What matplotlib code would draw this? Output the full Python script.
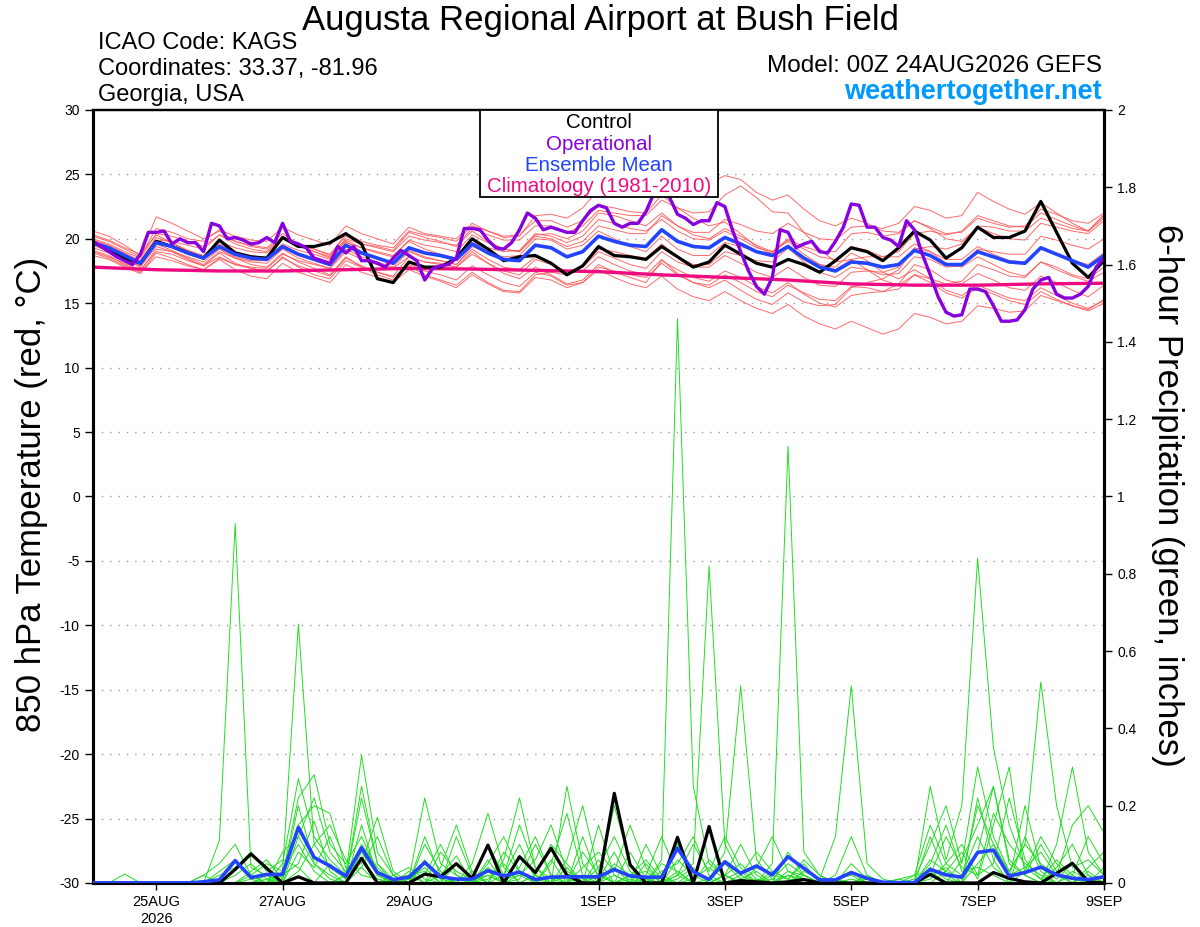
"""GEFS ensemble meteogram: 850 hPa temperature and 6-hour precipitation."""

import matplotlib

matplotlib.use("Agg")
from matplotlib import pyplot as plt  # noqa: E402
from matplotlib.patches import Rectangle  # noqa: E402
from matplotlib.ticker import FuncFormatter, MultipleLocator  # noqa: E402

plt.rcParams["font.family"] = ["Liberation Sans", "DejaVu Sans"]
plt.rcParams["axes.unicode_minus"] = False

STEP_DAYS = 0.25       # ensemble output every 6 h
OPER_STEP_DAYS = 0.125  # operational run every 3 h

tick_days = [1, 3, 5, 8, 10, 12, 14, 16]
tick_labels = ["25AUG\n2026", "27AUG", "29AUG", "1SEP", "3SEP", "5SEP", "7SEP", "9SEP"]

# ---- 850 hPa temperature (deg C) ----
control_temp = [
    19.7, 19.2, 18.5, 18.1, 19.8, 19.4, 18.9, 18.5, 19.9, 18.9, 18.6, 18.5, 20.1, 19.4, 19.4, 19.7,
    20.4, 19.6, 16.9, 16.6, 18.2, 17.8, 17.8, 18.5, 20.0, 19.2, 18.3, 18.6, 18.7, 18.1, 17.2, 17.9,
    19.4, 18.7, 18.6, 18.4, 19.4, 18.6, 17.8, 18.2, 19.5, 18.8, 18.1, 17.8, 18.4, 18.0, 17.4, 18.3,
    19.3, 19.0, 18.3, 19.3, 20.6, 19.9, 18.5, 19.3, 20.9, 20.1, 20.1, 20.6, 22.9, 20.5, 18.1, 17.0,
    18.3,
]
mean_temp = [
    19.7, 19.3, 18.7, 18.1, 19.7, 19.4, 18.9, 18.5, 19.4, 18.8, 18.5, 18.4, 19.4, 18.8, 18.4, 18.0,
    19.5, 18.9, 18.5, 18.1, 19.3, 18.9, 18.7, 18.4, 19.6, 18.9, 18.4, 18.3, 19.5, 19.3, 18.6, 19.0,
    20.2, 19.8, 19.5, 19.4, 20.7, 19.8, 19.4, 19.3, 20.1, 19.6, 19.0, 18.7, 19.4, 18.5, 17.8, 17.5,
    18.2, 18.1, 17.8, 18.0, 19.1, 18.7, 18.0, 18.0, 19.0, 18.6, 18.2, 18.1, 19.3, 18.8, 18.3, 17.8,
    18.7,
]
oper_temp = [
    19.8, 19.4, 19.0, 18.6, 18.3, 18.0, 18.8, 20.5, 20.5, 20.6, 19.6, 20.0, 19.7, 19.7, 19.0, 21.2,
    21.0, 20.0, 20.1, 19.9, 19.6, 19.7, 20.1, 19.7, 21.2, 19.8, 19.6, 19.3, 18.5, 18.3, 18.1, 19.4,
    18.9, 19.4, 18.3, 18.3, 18.1, 17.8, 18.5, 19.1, 18.7, 18.3, 16.8, 17.7, 17.9, 18.0, 18.5, 20.8,
    20.8, 20.7, 19.9, 19.3, 19.2, 19.7, 20.7, 22.0, 21.6, 20.7, 20.9, 20.7, 20.5, 20.5, 21.4, 22.2,
    22.6, 22.4, 21.2, 20.9, 21.2, 21.2, 22.1, 23.5, 23.7, 23.2, 21.9, 21.6, 21.1, 21.4, 21.4, 22.8,
    22.5, 20.6, 19.0, 17.5, 16.3, 15.7, 17.0, 20.7, 20.5, 19.3, 19.6, 19.8, 19.0, 18.9, 19.8, 20.9,
    22.7, 22.6, 20.9, 20.9, 20.1, 19.9, 19.4, 21.4, 20.7, 18.8, 17.2, 15.5, 14.3, 14.0, 14.1, 16.1,
    16.1, 15.9, 14.8, 13.6, 13.6, 13.7, 14.5, 16.1, 16.8, 17.0, 15.7, 15.4, 15.4, 15.7, 16.3, 17.8,
    18.5,
]
# 1981-2010 climatology, one value per day
clim_temp = [17.8, 17.6, 17.5, 17.5, 17.6, 17.7, 17.65, 17.55, 17.45,
             17.2, 17.0, 16.8, 16.5, 16.4, 16.4, 16.5, 16.55]

member_temp_01 = [
    20.2, 19.8, 19.2, 18.6, 20.8, 20.5, 20.0, 19.8, 20.7, 20.2, 19.9, 19.8, 20.9, 20.3, 19.9, 19.5,
    21.0, 20.4, 20.0, 19.6, 20.9, 20.4, 20.2, 20.0, 21.2, 20.6, 20.1, 20.2, 21.8, 21.9, 21.6, 22.4,
    23.8, 24.5, 24.8, 24.6, 24.9, 24.5, 24.2, 24.3, 24.9, 24.6, 23.6, 23.0, 23.4, 22.3, 21.4, 21.0,
    21.6, 21.2, 20.6, 20.5, 21.4, 20.8, 20.0, 19.8, 20.9, 20.4, 20.0, 19.9, 21.2, 20.9, 20.6, 20.4,
    21.4,
]
member_temp_02 = [
    19.0, 18.6, 18.1, 17.6, 19.0, 18.8, 18.3, 17.9, 18.6, 18.0, 17.7, 17.5, 18.5, 17.9, 17.5, 17.1,
    18.5, 17.9, 17.4, 17.0, 18.0, 17.5, 17.2, 16.8, 17.9, 17.2, 16.6, 16.3, 17.4, 17.1, 16.4, 16.6,
    17.6, 17.0, 16.5, 16.2, 17.1, 16.1, 15.5, 15.2, 15.9, 15.2, 14.6, 14.2, 14.9, 14.0, 13.4, 13.0,
    13.6, 13.1, 12.6, 13.0, 14.2, 13.9, 13.4, 13.6, 14.8, 14.6, 14.3, 14.4, 15.6, 15.2, 14.8, 14.5,
    15.3,
]
member_temp_03 = [
    19.9, 19.5, 18.9, 18.3, 20.1, 19.7, 19.1, 18.6, 19.6, 19.0, 18.7, 18.5, 19.6, 19.1, 18.8, 18.4,
    19.9, 19.3, 18.9, 18.6, 19.9, 19.5, 19.3, 19.0, 20.3, 19.7, 19.2, 19.0, 20.2, 20.0, 19.4, 19.8,
    21.0, 20.7, 20.4, 20.4, 21.8, 21.0, 20.5, 20.5, 21.5, 21.1, 20.6, 20.4, 21.2, 20.5, 20.0, 19.9,
    20.9, 21.0, 20.8, 21.2, 22.5, 22.2, 21.6, 21.8, 23.6, 22.9, 22.3, 21.9, 22.8, 22.0, 21.2, 20.6,
    21.8,
]
member_temp_04 = [
    19.3, 18.9, 18.4, 17.8, 19.4, 19.0, 18.4, 17.9, 18.9, 18.1, 17.7, 17.4, 18.6, 17.8, 17.2, 16.9,
    18.3, 17.8, 17.4, 17.1, 18.6, 18.2, 18.1, 17.8, 19.0, 18.1, 17.3, 16.9, 17.8, 17.2, 16.5, 16.8,
    18.0, 17.4, 17.0, 16.6, 18.3, 17.6, 17.0, 16.7, 17.5, 17.0, 16.3, 15.8, 16.6, 15.7, 15.0, 14.7,
    15.6, 15.8, 15.9, 16.5, 18.0, 17.6, 16.8, 16.5, 17.3, 16.8, 16.2, 16.0, 17.1, 16.6, 16.0, 15.5,
    16.4,
]
member_temp_05 = [
    20.6, 20.2, 19.5, 18.7, 21.7, 21.2, 20.6, 20.0, 20.6, 19.8, 19.4, 19.2, 20.1, 19.5, 19.2, 18.8,
    20.2, 19.6, 19.4, 19.1, 20.5, 20.1, 19.8, 19.4, 20.6, 19.8, 19.2, 19.0, 20.3, 20.4, 20.0, 20.6,
    22.0, 21.8, 21.4, 21.0, 22.0, 21.0, 20.3, 20.0, 20.8, 20.2, 19.5, 19.0, 19.8, 18.8, 18.0, 17.6,
    18.4, 18.6, 18.6, 19.0, 20.4, 20.6, 20.3, 20.6, 21.8, 21.4, 21.0, 20.9, 22.0, 21.5, 21.0, 20.6,
    21.6,
]
member_temp_06 = [
    19.1, 18.7, 18.0, 17.5, 19.2, 19.0, 18.6, 18.2, 19.2, 18.5, 18.0, 17.8, 18.9, 18.2, 17.7, 17.2,
    18.6, 17.8, 17.2, 16.8, 17.9, 17.2, 16.8, 16.4, 17.4, 16.6, 16.0, 15.9, 17.2, 17.4, 17.2, 17.9,
    19.2, 19.0, 18.7, 18.5, 19.6, 18.6, 18.0, 18.0, 19.0, 18.7, 18.3, 18.2, 19.3, 18.6, 18.0, 17.8,
    18.9, 18.3, 17.4, 16.9, 17.6, 16.9, 16.0, 15.6, 16.4, 15.9, 15.4, 15.2, 16.2, 15.6, 15.0, 14.6,
    15.2,
]
member_temp_07 = [
    20.0, 19.6, 19.0, 18.5, 20.4, 20.2, 19.8, 19.4, 20.3, 19.6, 19.2, 19.0, 20.2, 19.6, 19.2, 18.7,
    20.4, 19.8, 19.5, 19.3, 20.6, 20.3, 20.1, 19.8, 21.0, 20.6, 20.2, 20.3, 21.4, 21.4, 20.9, 21.4,
    22.6, 22.4, 22.1, 22.0, 23.4, 22.4, 21.6, 21.0, 21.3, 20.4, 19.4, 18.8, 19.3, 18.2, 17.4, 17.0,
    17.8, 17.6, 17.2, 17.3, 18.6, 18.4, 17.8, 17.9, 19.2, 19.0, 18.8, 18.8, 20.2, 19.9, 19.5, 19.2,
    20.0,
]
member_temp_08 = [
    19.5, 19.0, 18.3, 17.9, 19.6, 19.1, 18.5, 18.0, 19.0, 18.5, 18.2, 18.1, 19.2, 18.5, 18.1, 17.7,
    19.2, 18.6, 18.2, 17.8, 19.0, 18.5, 18.3, 18.0, 19.2, 18.4, 17.8, 17.6, 18.6, 18.1, 17.3, 17.5,
    18.6, 18.0, 17.5, 17.2, 18.4, 17.3, 16.6, 16.2, 16.8, 16.0, 15.3, 14.9, 15.8, 15.1, 14.8, 14.9,
    16.2, 16.6, 16.9, 17.6, 19.2, 19.4, 19.2, 19.6, 21.0, 20.9, 20.6, 20.6, 21.6, 21.2, 20.8, 20.6,
    21.9,
]
member_temp_09 = [
    19.8, 19.4, 18.8, 18.2, 19.9, 19.8, 19.5, 19.2, 20.3, 19.8, 19.5, 19.3, 20.4, 19.6, 19.0, 18.5,
    19.8, 19.0, 18.5, 18.0, 19.1, 18.6, 18.3, 18.0, 19.4, 18.9, 18.6, 18.7, 20.0, 19.9, 19.2, 19.5,
    20.6, 20.0, 19.4, 19.0, 20.2, 19.2, 18.7, 18.7, 19.7, 19.4, 19.0, 18.9, 19.9, 19.2, 18.6, 18.4,
    19.4, 19.1, 18.6, 18.6, 19.6, 19.0, 18.1, 17.8, 18.6, 18.0, 17.4, 17.1, 18.2, 17.6, 17.1, 16.7,
    17.4,
]
member_temp_10 = [
    19.6, 19.2, 18.6, 18.0, 19.8, 19.5, 19.1, 18.7, 19.8, 19.3, 19.0, 18.9, 20.0, 19.4, 19.0, 18.6,
    20.0, 19.6, 19.3, 19.0, 20.2, 19.9, 19.7, 19.5, 20.8, 20.3, 19.9, 19.9, 21.0, 21.0, 20.5, 21.0,
    22.2, 22.0, 21.8, 21.8, 23.0, 22.4, 22.0, 22.1, 23.4, 24.1, 23.2, 22.1, 22.0, 20.5, 19.2, 18.2,
    18.4, 17.6, 16.8, 16.4, 17.2, 16.6, 15.8, 15.4, 16.2, 15.7, 15.2, 14.9, 15.9, 15.3, 14.8, 14.4,
    15.0,
]
member_temp_11 = [
    18.9, 18.5, 17.9, 17.4, 18.6, 18.3, 17.9, 17.6, 18.5, 18.0, 17.8, 17.7, 18.8, 18.3, 18.0, 17.7,
    19.0, 18.4, 18.0, 17.7, 18.6, 18.2, 18.0, 17.8, 18.8, 18.1, 17.5, 17.2, 18.4, 18.0, 17.5, 17.8,
    19.0, 18.5, 18.0, 17.7, 19.0, 18.2, 17.8, 17.8, 18.7, 18.1, 17.4, 17.0, 17.8, 17.0, 16.4, 16.3,
    17.4, 17.5, 17.4, 17.8, 19.3, 19.0, 18.4, 18.4, 19.4, 18.8, 18.3, 18.2, 19.3, 18.8, 18.3, 18.0,
    18.9,
]
member_temp_12 = [
    20.3, 19.9, 19.3, 18.8, 20.3, 19.7, 19.0, 18.5, 19.3, 18.6, 18.3, 18.3, 19.3, 18.7, 18.4, 18.2,
    19.7, 19.3, 19.0, 18.7, 19.8, 19.2, 18.8, 18.5, 19.7, 19.3, 19.0, 19.1, 20.4, 20.2, 19.7, 20.2,
    21.5, 21.2, 20.8, 20.6, 21.5, 20.6, 20.0, 19.9, 20.6, 20.0, 19.3, 19.0, 20.0, 19.4, 19.0, 19.0,
    20.4, 20.5, 20.2, 20.4, 21.4, 20.9, 20.4, 20.5, 21.6, 21.2, 20.9, 21.0, 22.3, 21.9, 21.4, 21.2,
    22.0,
]
member_temp_13 = [
    18.7, 18.4, 17.8, 17.3, 18.9, 18.5, 18.0, 17.6, 18.4, 17.6, 17.1, 16.9, 18.1, 17.4, 17.0, 16.6,
    18.0, 17.4, 17.0, 16.6, 17.6, 17.1, 16.7, 16.2, 17.2, 16.5, 15.9, 15.8, 17.0, 16.8, 16.2, 16.6,
    17.8, 17.5, 17.2, 17.0, 18.1, 17.2, 16.6, 16.4, 17.2, 16.6, 15.9, 15.5, 16.4, 15.8, 15.3, 15.2,
    16.3, 16.2, 15.9, 16.1, 17.2, 16.9, 16.5, 16.7, 18.0, 17.6, 17.1, 17.0, 18.2, 17.8, 17.2, 16.9,
    17.8,
]

# ---- 6-hour precipitation (inches) ----
control_precip = [
    0, 0, 0, 0, 0, 0, 0, 0, 0, 0.035, 0.075, 0.038, 0, 0.016, 0, 0,
    0, 0.064, 0, 0, 0, 0.023, 0.016, 0.05, 0.012, 0.098, 0, 0.068, 0.027, 0.09, 0.02, 0,
    0, 0.232, 0.047, 0, 0, 0.118, 0, 0.146, 0, 0.006, 0.003, 0, 0.003, 0.009, 0, 0,
    0, 0, 0, 0, 0, 0.022, 0, 0, 0, 0.027, 0.012, 0.003, 0, 0.025, 0.051, 0.003,
    0,
]
mean_precip = [
    0, 0, 0, 0, 0, 0, 0, 0.003, 0.008, 0.058, 0.014, 0.022, 0.022, 0.144, 0.066, 0.044,
    0.018, 0.091, 0.027, 0.009, 0.015, 0.053, 0.016, 0.010, 0.010, 0.032, 0.018, 0.028, 0.009, 0.015, 0.016, 0.016,
    0.016, 0.035, 0.018, 0.015, 0.015, 0.09, 0.029, 0.009, 0.055, 0.025, 0.044, 0.021, 0.068, 0.038, 0.008, 0.008,
    0.027, 0.012, 0.002, 0.001, 0.001, 0.035, 0.021, 0.015, 0.079, 0.085, 0.018, 0.027, 0.041, 0.021, 0.012, 0.009,
    0.016,
]
member_precip_01 = [
    0, 0, 0, 0, 0, 0, 0, 0, 0.11, 0.93, 0.04, 0.02, 0, 0.12, 0.05, 0.02,
    0, 0.08, 0.02, 0, 0, 0.05, 0.02, 0, 0, 0.03, 0, 0.07, 0.02, 0, 0.25, 0.05,
    0, 0.02, 0, 0.01, 0, 0.03, 0, 0, 0.02, 0.05, 0.01, 0, 0.03, 0.02, 0, 0,
    0, 0.01, 0, 0, 0, 0.06, 0.03, 0.01, 0.2, 0.1, 0.02, 0.04, 0.01, 0, 0, 0.03,
    0,
]
member_precip_02 = [
    0, 0, 0, 0, 0, 0, 0, 0, 0, 0, 0.02, 0.05, 0.03, 0.67, 0.1, 0.04,
    0.01, 0.22, 0.05, 0.01, 0.02, 0, 0.08, 0.03, 0.01, 0.1, 0.02, 0.15, 0.04, 0.01, 0, 0.12,
    0.01, 0.2, 0.05, 0, 0.02, 0.1, 0.03, 0.01, 0, 0.02, 0.08, 0.03, 0.01, 0.05, 0, 0.01,
    0.02, 0, 0, 0, 0.01, 0.1, 0.2, 0.05, 0.3, 0.12, 0.03, 0.1, 0.05, 0.02, 0.15, 0.2,
    0.13,
]
member_precip_03 = [
    0, 0, 0, 0, 0, 0, 0, 0, 0, 0, 0, 0.01, 0.02, 0.22, 0.28, 0.1,
    0.05, 0.12, 0.03, 0, 0.01, 0.22, 0.05, 0.02, 0, 0.04, 0.01, 0.02, 0.06, 0.15, 0.03, 0.01,
    0, 0.05, 0.02, 0, 0.06, 1.46, 0.25, 0.05, 0.02, 0, 0.04, 0.12, 0.03, 0.01, 0, 0,
    0.03, 0.01, 0, 0, 0, 0.04, 0.01, 0, 0.08, 0.25, 0.06, 0.02, 0.1, 0.03, 0, 0.02,
    0,
]
member_precip_04 = [
    0, 0, 0, 0, 0, 0, 0, 0, 0.03, 0.06, 0.02, 0, 0.05, 0.27, 0.12, 0.06,
    0.02, 0.33, 0.08, 0.02, 0.04, 0.01, 0, 0.12, 0.02, 0, 0.08, 0.03, 0, 0.05, 0.18, 0.02,
    0.01, 0.08, 0, 0.02, 0.12, 0.02, 0.05, 0.82, 0.1, 0.02, 0, 0.01, 0.05, 0.02, 0, 0.01,
    0, 0, 0, 0, 0.02, 0.15, 0.05, 0.02, 0.12, 0.04, 0.01, 0.2, 0.04, 0.01, 0.05, 0,
    0.04,
]
member_precip_05 = [
    0, 0, 0, 0, 0, 0, 0, 0, 0, 0, 0, 0, 0.01, 0.15, 0.2, 0.18,
    0.04, 0.05, 0.17, 0.03, 0, 0.02, 0.1, 0.02, 0, 0.02, 0, 0.01, 0.1, 0.02, 0, 0.04,
    0.08, 0.03, 0.15, 0.04, 0, 0.02, 0.1, 0.03, 0.12, 0.04, 0, 0.05, 1.13, 0.08, 0.02, 0,
    0.01, 0, 0, 0, 0, 0.02, 0.12, 0.04, 0.02, 0.18, 0.1, 0.05, 0.02, 0, 0.03, 0.01,
    0,
]
member_precip_06 = [
    0, 0, 0, 0, 0, 0, 0, 0, 0, 0.02, 0.05, 0.01, 0, 0.08, 0.04, 0.12,
    0.02, 0.1, 0.04, 0, 0, 0.06, 0.01, 0, 0.05, 0.18, 0.04, 0, 0.02, 0, 0.06, 0.2,
    0.03, 0, 0.02, 0.06, 0.01, 0, 0.03, 0.01, 0.08, 0.51, 0.06, 0.01, 0, 0.03, 0.01, 0.12,
    0.51, 0.05, 0.01, 0, 0, 0.01, 0.05, 0.1, 0.02, 0.05, 0.22, 0.06, 0.01, 0.06, 0.02, 0,
    0.02,
]
member_precip_07 = [
    0, 0, 0, 0, 0, 0, 0, 0, 0, 0, 0.03, 0.06, 0.01, 0.2, 0.05, 0.01,
    0, 0.15, 0.02, 0, 0, 0, 0.04, 0.15, 0.03, 0, 0.06, 0.22, 0.04, 0, 0.02, 0,
    0.04, 0.12, 0.03, 0, 0.05, 0.03, 0, 0.06, 0.02, 0, 0.01, 0, 0.08, 0.02, 0, 0,
    0.05, 0.01, 0, 0, 0, 0.25, 0.06, 0.2, 0.84, 0.35, 0.15, 0.04, 0.08, 0.02, 0, 0.04,
    0.08,
]
member_precip_08 = [
    0, 0, 0, 0, 0, 0, 0, 0.02, 0.05, 0.1, 0.02, 0, 0.03, 0.1, 0.03, 0,
    0.02, 0.06, 0.01, 0, 0.02, 0.03, 0, 0.01, 0, 0.05, 0.12, 0.03, 0, 0.02, 0.01, 0,
    0.15, 0.02, 0, 0.1, 0.02, 0, 0.01, 0.04, 0.01, 0.03, 0, 0.02, 0.01, 0.06, 0.02, 0,
    0, 0.02, 0, 0, 0, 0.02, 0.04, 0, 0.05, 0.1, 0.03, 0.1, 0.52, 0.2, 0.04, 0.06,
    0.02,
]
member_precip_09 = [
    0, 0, 0.023, 0, 0, 0, 0, 0.02, 0, 0, 0, 0, 0.02, 0.05, 0.16, 0.03,
    0, 0.04, 0.12, 0.02, 0, 0.12, 0.02, 0, 0.03, 0, 0.02, 0.1, 0.01, 0, 0.04, 0,
    0.02, 0, 0.08, 0.01, 0, 0.06, 0.02, 0, 0.02, 0, 0, 0.03, 0.01, 0, 0, 0,
    0, 0, 0, 0.01, 0, 0.05, 0.15, 0.03, 0.04, 0.02, 0, 0.03, 0.12, 0.05, 0.01, 0,
    0,
]
member_precip_10 = [
    0, 0, 0, 0, 0, 0, 0, 0, 0.02, 0.04, 0.08, 0.03, 0.06, 0.04, 0, 0.05,
    0.01, 0.25, 0.05, 0, 0.01, 0.04, 0, 0.05, 0.01, 0.02, 0, 0.04, 0.12, 0.02, 0, 0.08,
    0.02, 0, 0.01, 0, 0.03, 0.05, 0.12, 0.02, 0, 0.01, 0.03, 0, 0.02, 0.01, 0, 0.02,
    0.12, 0.02, 0, 0.01, 0.02, 0.03, 0, 0.06, 0.15, 0.25, 0.05, 0.02, 0, 0.1, 0.3, 0.08,
    0.02,
]
member_precip_11 = [
    0, 0, 0, 0, 0, 0, 0, 0, 0, 0, 0.01, 0, 0.08, 0.12, 0.22, 0.08,
    0.03, 0.04, 0, 0.02, 0, 0.1, 0.03, 0, 0, 0.06, 0, 0.02, 0, 0.06, 0, 0.02,
    0, 0.04, 0, 0.05, 0, 0.01, 0.04, 0, 0.02, 0.1, 0.02, 0, 0, 0.02, 0, 0,
    0.03, 0, 0, 0, 0, 0.12, 0.02, 0, 0.22, 0.06, 0, 0.12, 0.03, 0, 0.02, 0.12,
    0.05,
]
member_precip_12 = [
    0, 0, 0, 0, 0, 0, 0, 0, 0, 0, 0, 0.02, 0, 0.03, 0.1, 0.15,
    0.06, 0.02, 0.01, 0, 0.03, 0, 0.02, 0.07, 0, 0.01, 0.05, 0, 0.02, 0.1, 0.05, 0,
    0.06, 0, 0.02, 0.03, 0, 0.02, 0, 0.01, 0.05, 0.01, 0, 0, 0.02, 0, 0, 0,
    0, 0, 0, 0, 0, 0, 0.03, 0.08, 0.01, 0.15, 0.3, 0.02, 0, 0.04, 0.1, 0.02,
    0,
]

members_temp = [
    member_temp_01, member_temp_02, member_temp_03, member_temp_04, member_temp_05,
    member_temp_06, member_temp_07, member_temp_08, member_temp_09, member_temp_10,
    member_temp_11, member_temp_12, member_temp_13,
]
members_precip = [
    member_precip_01, member_precip_02, member_precip_03, member_precip_04,
    member_precip_05, member_precip_06, member_precip_07, member_precip_08,
    member_precip_09, member_precip_10, member_precip_11, member_precip_12,
]

RED = "#ff5050"
GREEN = "#22dd22"
PURPLE = "#8800dd"
BLUE = "#2244ff"
PINK = "#ee0a80"


def _days(series, step):
    return [k * step for k in range(len(series))]


fig = plt.figure(figsize=(12, 9.27), dpi=100)
ax = fig.add_axes([0.0775, 0.0475, 0.8425, 0.8339])
ax2 = ax.twinx()

# temperature panel
for member in members_temp:
    ax.plot(_days(member, STEP_DAYS), member, color=RED, lw=0.7, alpha=0.85, zorder=2)
ax.plot(_days(clim_temp, 1.0), clim_temp, color=PINK, lw=2.4, zorder=3)
ax.plot(_days(control_temp, STEP_DAYS), control_temp, color="black", lw=2.3, zorder=4)
ax.plot(_days(mean_temp, STEP_DAYS), mean_temp, color=BLUE, lw=2.6, zorder=5)
ax.plot(_days(oper_temp, OPER_STEP_DAYS), oper_temp, color=PURPLE, lw=2.4, zorder=6)

# precipitation panel
for member in members_precip:
    ax2.plot(_days(member, STEP_DAYS), member, color=GREEN, lw=0.7, zorder=2)
ax2.plot(_days(control_precip, STEP_DAYS), control_precip, color="black", lw=2.3, zorder=4)
ax2.plot(_days(mean_precip, STEP_DAYS), mean_precip, color=BLUE, lw=2.6, zorder=5)

ax.set_xlim(0, 16)
ax.set_ylim(-30, 30)
ax2.set_ylim(0, 2)
ax.set_xticks(tick_days)
ax.set_xticklabels(tick_labels, fontsize=10.5)
ax.yaxis.set_major_locator(MultipleLocator(5))
ax2.yaxis.set_major_locator(MultipleLocator(0.2))
ax2.yaxis.set_major_formatter(FuncFormatter(lambda v, _: f"{v:g}"))
ax.tick_params(axis="y", labelsize=10, length=6, width=1, direction="out")
ax.tick_params(axis="x", length=5, width=1, direction="out", pad=4)
ax2.tick_params(axis="y", labelsize=10, length=6, width=1, direction="out")
ax.grid(axis="y", linestyle=(0, (1, 5)), color="#999999", linewidth=1.0)

for axis in (ax, ax2):
    for side in ("left", "right", "bottom"):
        axis.spines[side].set_linewidth(2.2)
    axis.spines["top"].set_linewidth(1.6)

ax.set_ylabel("850 hPa Temperature (red, °C)", fontsize=25)
ax.yaxis.set_label_coords(-0.0445, 0.502)
ax2.set_ylabel("6-hour Precipitation (green, inches)", fontsize=25, rotation=-90)
ax2.yaxis.set_label_coords(1.079, 0.502)

# header text
fig.text(0.5, 0.978, "Augusta Regional Airport at Bush Field", ha="center", va="center",
         fontsize=25)
fig.text(0.082, 0.954, "ICAO Code: KAGS", ha="left", va="center", fontsize=17)
fig.text(0.082, 0.926, "Coordinates: 33.37, -81.96", ha="left", va="center", fontsize=17)
fig.text(0.082, 0.898, "Georgia, USA", ha="left", va="center", fontsize=17)
fig.text(0.918, 0.929, "Model: 00Z 24AUG2026 GEFS", ha="right", va="center", fontsize=17.5)
fig.text(0.918, 0.901, "weathertogether.net", ha="right", va="center", fontsize=19.5,
         fontweight="bold", color="#0099ff")

# legend box
fig.add_artist(Rectangle((0.4, 0.7875), 0.1983, 0.094, transform=fig.transFigure,
                         facecolor="white", edgecolor="black", lw=1.3, zorder=10))
legend_items = [("Control", "black"), ("Operational", PURPLE),
                ("Ensemble Mean", BLUE), ("Climatology (1981-2010)", PINK)]
for k, (label, colour) in enumerate(legend_items):
    fig.text(0.4992, 0.8675 - k * 0.0230, label, ha="center", va="center",
             fontsize=14.8, color=colour, zorder=11)

fig.savefig("out.png", dpi=100)
